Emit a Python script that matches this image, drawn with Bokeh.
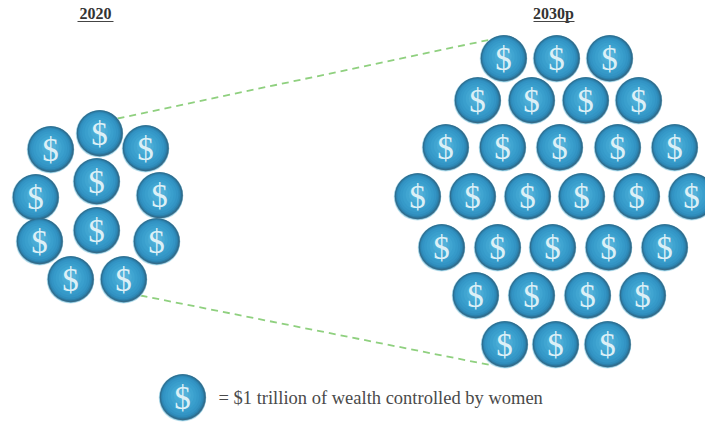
from bokeh.plotting import figure
from bokeh.models import Range1d, ColumnDataSource
from bokeh.core.properties import value
from bokeh.embed import file_html
from bokeh.resources import INLINE

titles = ["2020", "2030p"]
legend_text = "= $1 trillion of wealth controlled by women"
x_2020 = [99, 50, 145, 35, 96, 159, 39, 96, 156, 70, 123]
y_2020 = [133, 149, 148, 197, 181, 195, 241, 230, 241, 279, 279]
x_2030 = [503, 556, 609, 477, 531, 585, 638, 445, 502, 559, 617, 674,
          417, 472, 527, 581, 636, 691, 441, 497, 552, 608, 664,
          475, 531, 587, 642, 504, 555, 607]
y_2030 = [58, 58, 58, 100, 100, 100, 100, 147, 147, 147, 147, 147,
          196, 196, 196, 196, 196, 196, 247, 247, 247, 247, 247,
          295, 295, 295, 295, 344, 344, 344]
x_all = x_2020 + x_2030 + [182]
y_all = y_2020 + y_2030 + [397]

W, H = 705, 423
p = figure(width=W, height=H, output_backend="svg", toolbar_location=None,
           x_range=Range1d(0, W), y_range=Range1d(H, 0),
           min_border=0, outline_line_color=None)
p.axis.visible = False
p.grid.visible = False
p.background_fill_color = "white"

# connector lines
p.line([117, 495], [118, 38], line_color="#8fd07f", line_width=1.8, line_dash="7 5")
p.line([140, 492], [295, 365], line_color="#8fd07f", line_width=1.8, line_dash="7 5")

# sphere shading as stacked discs: (radius, dx, dy, colour)
layers = [
    (23.8, 0, 0.3, "#c5e4ef"),
    (23.4, 0.2, 0.0, "#7dbcd6"),
    (23.0, 0.3, -0.3, "#3a6a84"),
    (22.4, 0.1, -0.5, "#2c7095"),
    (21.6, 0, -0.6, "#2c80ab"),
    (20.6, -0.2, -0.8, "#2f8cbb"),
    (19.2, -0.3, -1.0, "#3394c4"),
    (17.0, -0.4, -1.2, "#369ac9"),
    (14.5, -0.4, -1.5, "#3a9fcd"),
    (11.5, -0.3, -1.8, "#40a5d1"),
    (8.5, -0.2, -2.2, "#49abd5"),
    (5.5, 0, -2.6, "#54b1d9"),
]
for r, dx, dy, c in layers:
    src = ColumnDataSource(dict(x=[v + dx for v in x_all], y=[v + dy for v in y_all]))
    p.circle("x", "y", radius=r, source=src, fill_color=c, line_color=None)

p.text(x_all, y_all, text=["$"] * len(x_all), text_color="#dcf0f7",
       text_font=value("Liberation Serif"), text_font_size="33px",
       text_align="center", text_baseline="middle")

# titles
p.text([95, 553], [13, 13], text=titles, text_color="#333333",
       text_font=value("Liberation Serif"), text_font_style="bold",
       text_font_size="16px", text_align="center", text_baseline="middle")
p.segment([77, 533], [21, 21], [113, 574], [21, 21], line_color="#444444", line_width=1)

# legend text
p.text([218], [397], text=[legend_text], text_color="#4a4a4a",
       text_font=value("Liberation Serif"), text_font_size="18.5px",
       text_align="left", text_baseline="middle")

open("out.html", "w").write(file_html(p, INLINE))
